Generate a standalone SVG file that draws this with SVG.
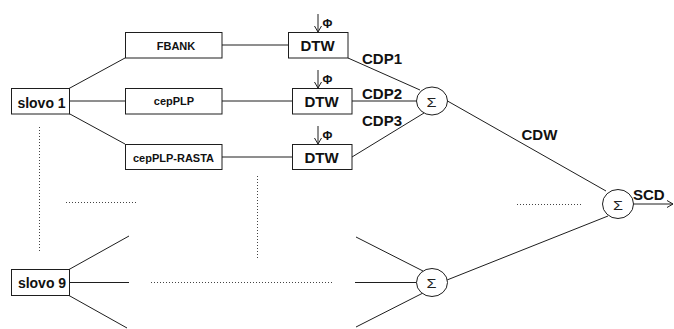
<svg xmlns="http://www.w3.org/2000/svg" width="674" height="329" viewBox="0 0 674 329">
  <style>
    .box { fill: #fff; stroke: #1e1e1e; stroke-width: 1; }
    .sum { fill: #fff; stroke: #1e1e1e; stroke-width: 1; }
    .wire { fill: none; stroke: #1e1e1e; stroke-width: 1; }
    .dots { fill: none; stroke: #444; stroke-width: 1; stroke-dasharray: 1 2; }
    .t { font-family: "Liberation Sans", Arial, sans-serif; font-weight: bold; fill: #111; }
    .big { font-size: 14px; }
    .mid { font-size: 15px; }
    .small { font-size: 11px; }
    .phi { font-size: 12px; }
    .sig { font-family: "Liberation Sans", Arial, sans-serif; font-size: 13px; font-weight: normal; fill: #222; }
  </style>
  <defs>
    <marker id="chev" viewBox="0 0 8 8" refX="7" refY="4" markerWidth="8" markerHeight="8" markerUnits="userSpaceOnUse" orient="auto">
      <path d="M1,0.5 L7,4 L1,7.5" fill="none" stroke="#1e1e1e" stroke-width="1"/>
    </marker>
  </defs>

  <rect width="674" height="329" fill="#fff"/>

  <g id="connectors">
    <!-- word 1 fan-out to feature extractors -->
    <line class="wire" x1="69" y1="88.5" x2="125" y2="58"/>
    <line class="wire" x1="69" y1="101" x2="125" y2="101"/>
    <line class="wire" x1="69" y1="113.5" x2="125" y2="144"/>
    <!-- features to DTW -->
    <line class="wire" x1="222" y1="45" x2="288" y2="45"/>
    <line class="wire" x1="222" y1="101" x2="292" y2="101"/>
    <line class="wire" x1="222" y1="157" x2="292" y2="157"/>
    <!-- Phi inputs -->
    <line class="wire" x1="318" y1="14" x2="318" y2="32" marker-end="url(#chev)"/>
    <line class="wire" x1="318" y1="70" x2="318" y2="88" marker-end="url(#chev)"/>
    <line class="wire" x1="318" y1="126" x2="318" y2="144" marker-end="url(#chev)"/>
    <!-- DTW outputs to first sum -->
    <line class="wire" x1="348" y1="58" x2="420" y2="90"/>
    <line class="wire" x1="352" y1="101" x2="416.5" y2="101"/>
    <line class="wire" x1="352" y1="157" x2="424" y2="113"/>
    <!-- sums to final sum -->
    <line class="wire" x1="447.5" y1="101" x2="606" y2="191"/>
    <line class="wire" x1="447" y1="280" x2="608" y2="216"/>
    <!-- output -->
    <line class="wire" x1="633.5" y1="204" x2="673" y2="204" marker-end="url(#chev)"/>
    <!-- word 9 fan-out -->
    <line class="wire" x1="69" y1="269.5" x2="129" y2="236"/>
    <line class="wire" x1="69" y1="282.5" x2="129" y2="282.5"/>
    <line class="wire" x1="69" y1="295.5" x2="127" y2="328"/>
    <!-- inputs of the lower sum -->
    <line class="wire" x1="356" y1="237" x2="423" y2="271"/>
    <line class="wire" x1="355" y1="282.5" x2="416.5" y2="282.5"/>
    <line class="wire" x1="356" y1="327" x2="423" y2="293"/>
    <!-- elided parts -->
    <line class="dots" x1="39.5" y1="127" x2="39.5" y2="252"/>
    <line class="dots" x1="66" y1="202.5" x2="137" y2="202.5"/>
    <line class="dots" x1="257.5" y1="176" x2="257.5" y2="260"/>
    <line class="dots" x1="151" y1="282.5" x2="332" y2="282.5"/>
    <line class="dots" x1="517" y1="204.5" x2="583" y2="204.5"/>
  </g>

  <g id="slovo1">
    <rect class="box" x="11.5" y="88.5" width="58" height="25.5"/>
    <text class="t big" x="41.5" y="107.5" text-anchor="middle">slovo 1</text>
  </g>
  <g id="fbank">
    <rect class="box" x="125.5" y="32.5" width="96.5" height="25.5"/>
    <text class="t small" x="176" y="49.5" text-anchor="middle">FBANK</text>
  </g>
  <g id="cepplp">
    <rect class="box" x="125.5" y="88.5" width="96.5" height="25.5"/>
    <text class="t small" x="174" y="105" text-anchor="middle">cepPLP</text>
  </g>
  <g id="cepplp-rasta">
    <rect class="box" x="125.5" y="144.5" width="96.5" height="25"/>
    <text class="t small" x="173.5" y="161.5" text-anchor="middle">cepPLP-RASTA</text>
  </g>
  <g id="dtw1">
    <rect class="box" x="288.5" y="32.5" width="59.5" height="25.5"/>
    <text class="t mid" x="317.5" y="51" text-anchor="middle">DTW</text>
    <text class="t phi" x="322.5" y="28">Φ</text>
  </g>
  <g id="dtw2">
    <rect class="box" x="292.5" y="88.5" width="59.5" height="25.5"/>
    <text class="t mid" x="321.5" y="107" text-anchor="middle">DTW</text>
    <text class="t phi" x="322.5" y="84">Φ</text>
  </g>
  <g id="dtw3">
    <rect class="box" x="292.5" y="144.5" width="59.5" height="25"/>
    <text class="t mid" x="321.5" y="163" text-anchor="middle">DTW</text>
    <text class="t phi" x="322.5" y="140">Φ</text>
  </g>
  <g id="sum1">
    <ellipse class="sum" cx="432" cy="101" rx="15.5" ry="14"/>
    <text class="sig" x="426.5" y="106.5" textLength="10" lengthAdjust="spacingAndGlyphs">Σ</text>
  </g>
  <g id="sum9">
    <ellipse class="sum" cx="432" cy="282.5" rx="15.5" ry="14"/>
    <text class="sig" x="426.5" y="288" textLength="10" lengthAdjust="spacingAndGlyphs">Σ</text>
  </g>
  <g id="sumTotal">
    <ellipse class="sum" cx="618" cy="204" rx="15.5" ry="14.5"/>
    <text class="sig" x="613" y="209.5" textLength="10" lengthAdjust="spacingAndGlyphs">Σ</text>
  </g>
  <g id="slovo9">
    <rect class="box" x="11.5" y="269.5" width="58" height="26"/>
    <text class="t big" x="42" y="288" text-anchor="middle">slovo 9</text>
  </g>

  <g id="labels">
    <text class="t mid" x="362" y="64">CDP1</text>
    <text class="t mid" x="362" y="98.5">CDP2</text>
    <text class="t mid" x="362" y="126">CDP3</text>
    <text class="t mid" x="521.5" y="140">CDW</text>
    <text class="t mid" x="633" y="199.5">SCD</text>
  </g>
</svg>
